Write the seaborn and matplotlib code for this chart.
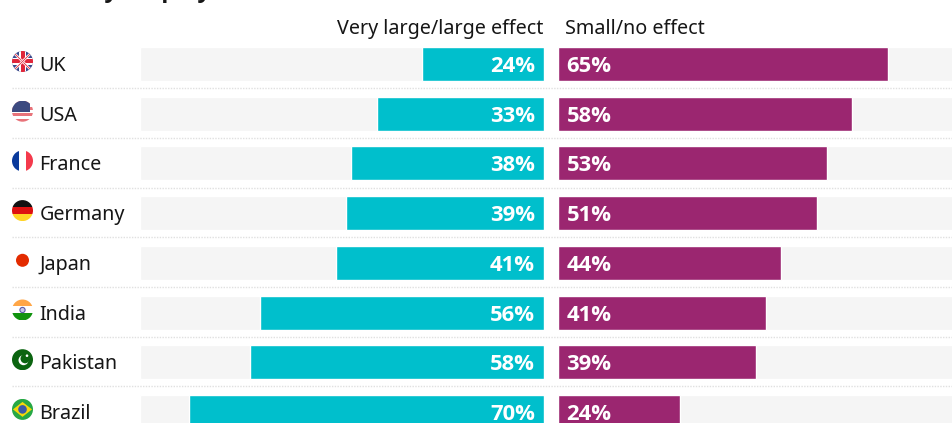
import numpy as np
import pandas as pd
import matplotlib.pyplot as plt
import matplotlib.patches as mpatches
import seaborn as sns

sns.set_style("white")
plt.rcParams['font.family'] = ['Noto Sans', 'DejaVu Sans']

countries = ['UK', 'USA', 'France', 'Germany', 'Japan', 'India', 'Pakistan', 'Brazil']
large_effect = [24, 33, 38, 39, 41, 56, 58, 70]
small_effect = [65, 58, 53, 51, 44, 41, 39, 24]

W, H = 952, 423
PITCH = 49.7
TOP = 64.0
BAR = 34 / PITCH
PX_PER_PCT = 5.07
CYAN = '#00bfcc'
PURPLE = '#9b2670'
TRACK = '#f5f5f5'
INK = '#161616'
BOLD = ['Open Sans', 'DejaVu Sans']

df = pd.DataFrame({'country': countries, 'large': large_effect, 'small': small_effect})

fig = plt.figure(figsize=(W / 100, H / 100), dpi=100)


def panel(x0, x1):
    return fig.add_axes([x0 / W, 0, (x1 - x0) / W, 1])


ylim = ((H - TOP) / PITCH, -TOP / PITCH)

# fondo y separadores en pixeles
bg = fig.add_axes([0, 0, 1, 1])
bg.set_xlim(0, W)
bg.set_ylim(H, 0)
bg.axis('off')
for i in range(1, 8):
    y = 63.5 + (i - 0.5) * PITCH - 0.2
    bg.plot([12, W], [y, y], color='#e0e0e0', lw=1, ls=(0, (1, 1)))

# barras izquierda
ax_l = panel(139.6, 544)
ax_l.barh(range(8), [404 / PX_PER_PCT] * 8, height=BAR, color=TRACK)
sns.barplot(data=df, y='country', x='large', orient='h', color=CYAN, saturation=1,
            width=BAR, ax=ax_l)
ax_l.set_xlim(404.4 / PX_PER_PCT, 0)
ax_l.set_ylim(*ylim)

# barras derecha
ax_r = panel(558, W)
ax_r.barh(range(8), [395 / PX_PER_PCT] * 8, height=BAR, color=TRACK)
sns.barplot(data=df, y='country', x='small', orient='h', color=PURPLE, saturation=1,
            width=BAR, ax=ax_r)
ax_r.set_xlim(0, 394 / PX_PER_PCT)
ax_r.set_ylim(*ylim)

for ax in (ax_l, ax_r):
    ax.axis('off')
    ax.patch.set_visible(False)

for i, (a, b) in enumerate(zip(large_effect, small_effect)):
    ax_l.text(1.8, i, f'{a}%', color='white', fontsize=15.8, fontweight='bold',
              family=BOLD, ha='right', va='center_baseline')
    ax_r.text(1.7, i, f'{b}%', color='white', fontsize=15.8, fontweight='bold',
              family=BOLD, ha='left', va='center_baseline')

# capa superior: textos y banderas
top = fig.add_axes([0, 0, 1, 1])
top.set_xlim(0, W)
top.set_ylim(H, 0)
top.axis('off')
top.patch.set_visible(False)

# solo asoman los rabos del titulo, cortado arriba
top.text(90, -3, 'by employers', fontsize=17, fontweight='bold', family=BOLD, color=INK,
         ha='left', va='baseline')

top.text(543, 26.5, 'Very large/large effect', fontsize=14.2, color=INK, ha='right', va='center_baseline')
top.text(565, 26.5, 'Small/no effect', fontsize=14.2, color=INK, ha='left', va='center_baseline')

for i, c in enumerate(countries):
    top.text(39.5, 63.5 + i * PITCH, c, fontsize=14.2, color=INK, ha='left', va='center_baseline')


def flag(i, draw, r=10.5):
    cx, cy = 22.5, 64 + i * PITCH - 2.5
    clip = mpatches.Circle((cx, cy), r, transform=top.transData, fc='none', ec='none')
    top.add_patch(clip)
    for art in draw(cx, cy, r):
        top.add_artist(art)
        art.set_clip_path(clip)


def stripes_h(cols):
    def f(cx, cy, r):
        h = 2 * r / len(cols)
        return [mpatches.Rectangle((cx - r, cy - r + k * h), 2 * r, h, fc=c, ec='none')
                for k, c in enumerate(cols)]
    return f


def stripes_v(cols):
    def f(cx, cy, r):
        w = 2 * r / len(cols)
        return [mpatches.Rectangle((cx - r + k * w, cy - r), w, 2 * r, fc=c, ec='none')
                for k, c in enumerate(cols)]
    return f


def uk(cx, cy, r):
    arts = [mpatches.Rectangle((cx - r, cy - r), 2 * r, 2 * r, fc='#3a4a8c', ec='none')]
    for s in (1, -1):
        arts.append(plt.Line2D([cx - r, cx + r], [cy - s * r, cy + s * r], color='white', lw=1.8))
        arts.append(plt.Line2D([cx - r, cx + r], [cy - s * r, cy + s * r], color='#e0263a', lw=0.6))
    arts.append(mpatches.Rectangle((cx - r, cy - 3.2), 2 * r, 6.4, fc='white', ec='none'))
    arts.append(mpatches.Rectangle((cx - 3.2, cy - r), 6.4, 2 * r, fc='white', ec='none'))
    arts.append(mpatches.Rectangle((cx - r, cy - 2), 2 * r, 4, fc='#e0263a', ec='none'))
    arts.append(mpatches.Rectangle((cx - 2, cy - r), 4, 2 * r, fc='#e0263a', ec='none'))
    return arts


def usa(cx, cy, r):
    arts = stripes_h(['#e8737a', 'white'] * 3 + ['#e8737a'])(cx, cy, r)
    arts.append(mpatches.Rectangle((cx - r, cy - r), 1.75 * r, r * 1.05, fc='#3c4a80', ec='none'))
    return arts


def japan(cx, cy, r):
    return [mpatches.Circle((cx, cy), 6.5, fc='#e32b00', ec='none')]


def india(cx, cy, r):
    arts = stripes_h(['#ffa647', 'white', '#11930f'])(cx, cy, r)
    arts.append(mpatches.Circle((cx, cy), 2.6, fc='#c8c8e8', ec='#5a5aa8', lw=0.8))
    return arts


def pakistan(cx, cy, r):
    return [mpatches.Rectangle((cx - r, cy - r), 2 * r, 2 * r, fc='#0b6410', ec='none'),
            mpatches.Circle((cx + 1, cy + 0.5), 5, fc='white', ec='none'),
            mpatches.Circle((cx + 2.6, cy - 1), 4.6, fc='#0b6410', ec='none'),
            mpatches.Circle((cx + 4.5, cy - 4), 1.3, fc='white', ec='none')]


def brazil(cx, cy, r):
    return [mpatches.Rectangle((cx - r, cy - r), 2 * r, 2 * r, fc='#27a845', ec='none'),
            mpatches.Polygon([(cx - r + 1, cy), (cx, cy - 7.5), (cx + r - 1, cy), (cx, cy + 7.5)],
                             fc='#f5d90a', ec='none'),
            mpatches.Circle((cx, cy), 4.3, fc='#3b5aa6', ec='none')]


drawers = [uk, usa, stripes_v(['#0a3a9c', 'white', '#f43a4c']),
           stripes_h(['#111111', '#dd1111', '#ffd426']), japan, india, pakistan, brazil]
for i, d in enumerate(drawers):
    flag(i, d)

fig.savefig('out.png', dpi=100)
